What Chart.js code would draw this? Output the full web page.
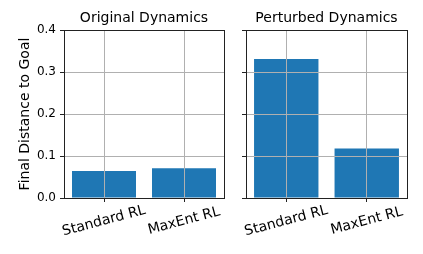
<!DOCTYPE html>
<html>
<head>
<meta charset="utf-8">
<script src="https://cdn.jsdelivr.net/npm/chart.js@4.4.1/dist/chart.umd.min.js"></script>
<style>
  html, body { margin: 0; padding: 0; background: #fff; }
  #wrap { position: relative; width: 423px; height: 254px; }
  .panel { position: absolute; top: 0; height: 254px; }
  #left { left: 0; width: 232px; }
  #right { left: 232px; width: 191px; }
</style>
</head>
<body>
<div id="wrap">
  <div class="panel" id="left"><canvas id="c1"></canvas></div>
  <div class="panel" id="right"><canvas id="c2"></canvas></div>
</div>
<script>
// données
const categories = ['Standard RL', 'MaxEnt RL'];
const originalValues = [0.064, 0.071];
const perturbedValues = [0.331, 0.118];
const yTicks = [0, 0.1, 0.2, 0.3, 0.4];
const panelTitles = ['Original Dynamics', 'Perturbed Dynamics'];
const yLabel = 'Final Distance to Goal';

const FONT = "'DejaVu Sans', 'Liberation Sans', sans-serif";
const barColor = '#1f77b4';

// cadre complet + étiquettes x inclinées (centrées sous le tick)
const framePlugin = {
  id: 'frame',
  afterDraw(chart) {
    const ctx = chart.ctx;
    const a = chart.chartArea;
    ctx.save();
    ctx.strokeStyle = '#222';
    ctx.lineWidth = 1;
    ctx.strokeRect(Math.round(a.left) + 0.5, Math.round(a.top) + 0.5,
      Math.round(a.right) - Math.round(a.left), Math.round(a.bottom) - Math.round(a.top));

    const xs = chart.scales.x;
    ctx.fillStyle = '#000';
    ctx.font = '14px ' + FONT;
    ctx.textAlign = 'center';
    ctx.textBaseline = 'middle';
    categories.forEach((lab, i) => {
      const x = xs.getPixelForValue(i);
      ctx.save();
      ctx.translate(x, 221);
      ctx.rotate(-15 * Math.PI / 180);
      ctx.fillText(lab, 0, 0);
      ctx.restore();
    });
    ctx.restore();
  }
};

function makeChart(canvasId, values, title, showYLabels, yWidth, padRight) {
  return new Chart(document.getElementById(canvasId), {
    type: 'bar',
    data: {
      labels: categories,
      datasets: [{
        data: values,
        backgroundColor: barColor,
        borderWidth: 0,
        barPercentage: 0.8,
        categoryPercentage: 1.0
      }]
    },
    options: {
      responsive: true,
      maintainAspectRatio: false,
      devicePixelRatio: 1,
      animation: false,
      layout: { padding: { left: 0, right: padRight, top: 0, bottom: 0 } },
      plugins: {
        legend: { display: false },
        tooltip: { enabled: false },
        title: {
          display: true,
          text: title,
          fullSize: false,
          color: '#000',
          font: { family: FONT, size: 14, weight: 'normal' },
          padding: { top: 10, bottom: 3.2 }
        }
      },
      scales: {
        x: {
          offset: true,
          grid: { offset: false, color: '#b0b0b0', lineWidth: 1, z: 1,
                  drawTicks: true, tickLength: 4, tickColor: '#222' },
          border: { display: false },
          ticks: { display: false },
          afterFit: (s) => { s.height = 56; }
        },
        y: {
          min: 0,
          max: 0.4,
          afterBuildTicks: (s) => { s.ticks = yTicks.map(v => ({ value: v })); },
          grid: { color: '#b0b0b0', lineWidth: 1, z: 1,
                  drawTicks: true, tickLength: 4, tickColor: '#222' },
          border: { display: false },
          ticks: {
            display: showYLabels,
            color: '#000',
            padding: 4,
            font: { family: FONT, size: 12 },
            callback: (v) => Number(v).toFixed(1)
          },
          title: {
            display: showYLabels,
            text: yLabel,
            color: '#000',
            font: { family: FONT, size: 14 },
            padding: { top: 16.6, bottom: 0 }
          },
          afterFit: (s) => { s.width = yWidth; }
        }
      }
    },
    plugins: [framePlugin]
  });
}

makeChart('c1', originalValues, panelTitles[0], true, 64, 8);
makeChart('c2', perturbedValues, panelTitles[1], false, 14, 16);
</script>
</body>
</html>
